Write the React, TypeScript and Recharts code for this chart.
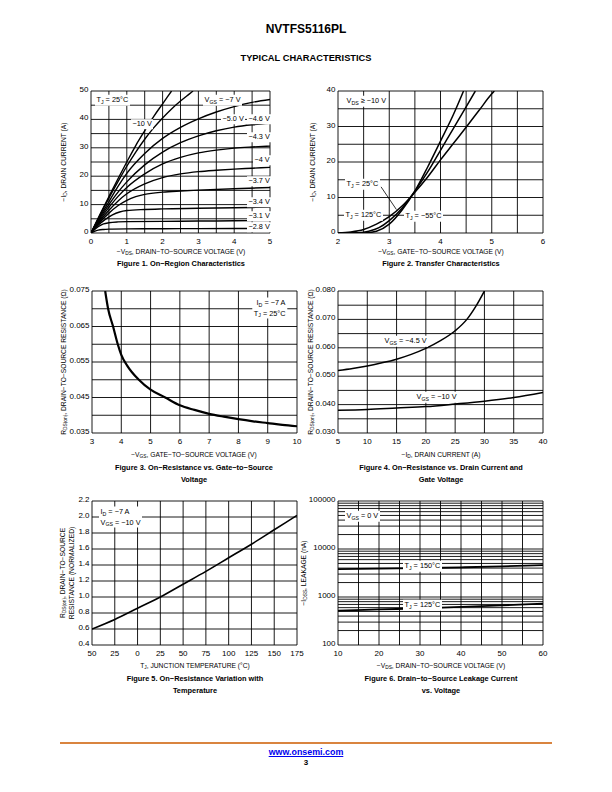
import React from "react";
import { LineChart, Line, XAxis, YAxis, CartesianGrid, ReferenceLine } from "recharts";

const FONT = '"Liberation Sans", Arial, Helvetica, sans-serif';

type Pt = { x: number; y: number };

// ---------- Figure 1: on-region characteristics ----------
const fig1XGrid = [0, 0.5, 1, 1.5, 2, 2.5, 3, 3.5, 4, 4.5, 5];
const fig1XText = ["0", "", "1", "", "2", "", "3", "", "4", "", "5"];
const fig1YGrid = [0, 5, 10, 15, 20, 25, 30, 35, 40, 45, 50];
const fig1YText = ["0", "", "10", "", "20", "", "30", "", "40", "", "50"];

const vgs10: Pt[] = [
  { x: 0, y: 0 }, { x: 0.25, y: 6.5 }, { x: 0.5, y: 12.8 }, { x: 0.75, y: 19 }, { x: 1, y: 25 },
  { x: 1.25, y: 30.8 }, { x: 1.5, y: 36 }, { x: 1.75, y: 41 }, { x: 2, y: 45.5 }, { x: 2.25, y: 50 },
];
const vgs7: Pt[] = [
  { x: 0, y: 0 }, { x: 0.25, y: 6.3 }, { x: 0.5, y: 12.3 }, { x: 0.75, y: 18 }, { x: 1, y: 23.5 },
  { x: 1.25, y: 28.5 }, { x: 1.5, y: 33 }, { x: 1.75, y: 37 }, { x: 2, y: 40.5 }, { x: 2.25, y: 43.7 },
  { x: 2.5, y: 46.5 }, { x: 2.75, y: 49 }, { x: 2.85, y: 50 },
];
const vgs5: Pt[] = [
  { x: 0, y: 0 }, { x: 0.25, y: 5.8 }, { x: 0.5, y: 11 }, { x: 0.75, y: 16.3 }, { x: 1, y: 21 },
  { x: 1.5, y: 28 }, { x: 2, y: 33.3 }, { x: 2.5, y: 37.2 }, { x: 3, y: 40.2 }, { x: 3.5, y: 42.6 },
  { x: 4, y: 44.5 }, { x: 4.5, y: 46 }, { x: 5, y: 47 },
];
const vgs46: Pt[] = [
  { x: 0, y: 0 }, { x: 0.25, y: 5.3 }, { x: 0.5, y: 10 }, { x: 0.75, y: 14.3 }, { x: 1, y: 18 },
  { x: 1.5, y: 24 }, { x: 2, y: 28.5 }, { x: 2.5, y: 31.8 }, { x: 3, y: 34.2 }, { x: 3.5, y: 36 },
  { x: 4, y: 37.3 }, { x: 4.5, y: 38.1 }, { x: 5, y: 38.6 },
];
const vgs43: Pt[] = [
  { x: 0, y: 0 }, { x: 0.25, y: 4.8 }, { x: 0.5, y: 9 }, { x: 0.75, y: 12.8 }, { x: 1, y: 16 },
  { x: 1.5, y: 20.8 }, { x: 2, y: 24.3 }, { x: 2.5, y: 26.6 }, { x: 3, y: 28.2 }, { x: 3.5, y: 29.2 },
  { x: 4, y: 29.9 }, { x: 4.5, y: 30.3 }, { x: 5, y: 30.6 },
];
const vgs4: Pt[] = [
  { x: 0, y: 0 }, { x: 0.25, y: 4.3 }, { x: 0.5, y: 8 }, { x: 0.75, y: 11.2 }, { x: 1, y: 13.8 },
  { x: 1.5, y: 17.3 }, { x: 2, y: 19.5 }, { x: 2.5, y: 20.8 }, { x: 3, y: 21.6 }, { x: 3.5, y: 22.1 },
  { x: 4, y: 22.5 }, { x: 4.5, y: 22.8 }, { x: 5, y: 23.1 },
];
const vgs37: Pt[] = [
  { x: 0, y: 0 }, { x: 0.25, y: 3.8 }, { x: 0.5, y: 7 }, { x: 0.75, y: 9.6 }, { x: 1, y: 11.5 },
  { x: 1.25, y: 12.8 }, { x: 1.5, y: 13.6 }, { x: 2, y: 14.4 }, { x: 2.5, y: 14.8 }, { x: 3, y: 15.1 },
  { x: 4, y: 15.6 }, { x: 5, y: 16 },
];
const vgs34: Pt[] = [
  { x: 0, y: 0 }, { x: 0.2, y: 2.7 }, { x: 0.4, y: 4.8 }, { x: 0.6, y: 6.4 }, { x: 0.8, y: 7.4 },
  { x: 1, y: 7.9 }, { x: 1.5, y: 8.3 }, { x: 2, y: 8.5 }, { x: 3, y: 8.7 }, { x: 4, y: 8.9 }, { x: 5, y: 9.1 },
];
const vgs31: Pt[] = [
  { x: 0, y: 0 }, { x: 0.1, y: 1.2 }, { x: 0.2, y: 2.2 }, { x: 0.35, y: 3.2 }, { x: 0.5, y: 3.6 },
  { x: 0.75, y: 3.9 }, { x: 1, y: 4 }, { x: 2, y: 4.1 }, { x: 3, y: 4.2 }, { x: 4, y: 4.3 }, { x: 5, y: 4.4 },
];
const vgs28: Pt[] = [
  { x: 0, y: 0 }, { x: 0.1, y: 0.6 }, { x: 0.2, y: 1 }, { x: 0.35, y: 1.25 }, { x: 0.5, y: 1.35 },
  { x: 1, y: 1.45 }, { x: 2, y: 1.5 }, { x: 3, y: 1.55 }, { x: 5, y: 1.6 },
];
const fig1Series = [vgs10, vgs7, vgs5, vgs46, vgs43, vgs4, vgs37, vgs34, vgs31, vgs28];

// ---------- Figure 2: transfer characteristics ----------
const fig2XGrid = [2, 2.5, 3, 3.5, 4, 4.5, 5, 5.5, 6];
const fig2XText = ["2", "", "3", "", "4", "", "5", "", "6"];
const fig2YGrid = [0, 5, 10, 15, 20, 25, 30, 35, 40];
const fig2YText = ["0", "", "10", "", "20", "", "30", "", "40"];

const tj125: Pt[] = [
  { x: 2, y: 0 }, { x: 2.25, y: 0.3 }, { x: 2.5, y: 1 }, { x: 2.75, y: 2.5 }, { x: 3, y: 4.6 },
  { x: 3.25, y: 7.6 }, { x: 3.5, y: 11.5 }, { x: 3.75, y: 15.8 }, { x: 4, y: 20.6 }, { x: 4.25, y: 25.2 },
  { x: 4.5, y: 29.8 }, { x: 4.75, y: 34.5 }, { x: 5, y: 39.2 }, { x: 5.05, y: 40 },
];
const tj25: Pt[] = [
  { x: 2, y: 0 }, { x: 2.4, y: 0.1 }, { x: 2.6, y: 0.5 }, { x: 2.8, y: 1.5 }, { x: 3, y: 3.5 },
  { x: 3.25, y: 7 }, { x: 3.5, y: 11.8 }, { x: 3.75, y: 17.2 }, { x: 4, y: 23.3 }, { x: 4.25, y: 29.4 },
  { x: 4.5, y: 35.5 }, { x: 4.68, y: 40 },
];
const tjm55: Pt[] = [
  { x: 2, y: 0 }, { x: 2.5, y: 0 }, { x: 2.75, y: 0.5 }, { x: 3, y: 2.5 }, { x: 3.25, y: 6.5 },
  { x: 3.5, y: 11.8 }, { x: 3.75, y: 18.6 }, { x: 4, y: 25.9 }, { x: 4.25, y: 33.3 }, { x: 4.45, y: 40 },
];

// ---------- Figure 3: RDS(on) vs VGS ----------
const fig3XGrid = [3, 4, 5, 6, 7, 8, 9, 10];
const fig3XText = ["3", "4", "5", "6", "7", "8", "9", "10"];
const fig3YGrid = [0.035, 0.04, 0.045, 0.05, 0.055, 0.06, 0.065, 0.07, 0.075];
const fig3YText = ["0.035", "", "0.045", "", "0.055", "", "0.065", "", "0.075"];
const rdsVsVgs: Pt[] = [
  { x: 3.45, y: 0.075 }, { x: 3.55, y: 0.07 }, { x: 3.72, y: 0.065 }, { x: 3.88, y: 0.06 },
  { x: 4, y: 0.057 }, { x: 4.2, y: 0.054 }, { x: 4.6, y: 0.05 }, { x: 5, y: 0.0472 },
  { x: 5.5, y: 0.045 }, { x: 6, y: 0.0428 }, { x: 6.5, y: 0.0415 }, { x: 7, y: 0.0404 },
  { x: 7.5, y: 0.0396 }, { x: 8, y: 0.0389 }, { x: 8.5, y: 0.0383 }, { x: 9, y: 0.0378 },
  { x: 9.5, y: 0.0373 }, { x: 10, y: 0.0369 },
];

// ---------- Figure 4: RDS(on) vs ID ----------
const fig4XGrid = [5, 10, 15, 20, 25, 30, 35, 40];
const fig4XText = ["5", "10", "15", "20", "25", "30", "35", "40"];
const fig4YGrid = [0.03, 0.035, 0.04, 0.045, 0.05, 0.055, 0.06, 0.065, 0.07, 0.075, 0.08];
const fig4YText = ["0.030", "", "0.040", "", "0.050", "", "0.060", "", "0.070", "", "0.080"];
const rdsVgs45: Pt[] = [
  { x: 5, y: 0.052 }, { x: 7.5, y: 0.0527 }, { x: 10, y: 0.0536 }, { x: 12.5, y: 0.0547 },
  { x: 15, y: 0.056 }, { x: 17.5, y: 0.0577 }, { x: 20, y: 0.0598 }, { x: 22.5, y: 0.0625 },
  { x: 25, y: 0.066 }, { x: 27, y: 0.07 }, { x: 28.5, y: 0.0745 }, { x: 30, y: 0.08 },
];
const rdsVgs10: Pt[] = [
  { x: 5, y: 0.038 }, { x: 10, y: 0.0383 }, { x: 15, y: 0.0388 }, { x: 20, y: 0.0393 },
  { x: 25, y: 0.0402 }, { x: 30, y: 0.0412 }, { x: 35, y: 0.0425 }, { x: 40, y: 0.0443 },
];

// ---------- Figure 5: RDS(on) vs temperature ----------
const fig5XGrid = [-50, -25, 0, 25, 50, 75, 100, 125, 150, 175];
const fig5XText = ["50", "25", "0", "25", "50", "75", "100", "125", "150", "175"];
const fig5YGrid = [0.4, 0.6, 0.8, 1.0, 1.2, 1.4, 1.6, 1.8, 2.0, 2.2];
const fig5YText = ["0.4", "0.6", "0.8", "1.0", "1.2", "1.4", "1.6", "1.8", "2.0", "2.2"];
const rdsVsTemp: Pt[] = [
  { x: -50, y: 0.6 }, { x: -25, y: 0.72 }, { x: 0, y: 0.86 }, { x: 25, y: 1.0 }, { x: 50, y: 1.16 },
  { x: 75, y: 1.32 }, { x: 100, y: 1.49 }, { x: 125, y: 1.66 }, { x: 150, y: 1.84 }, { x: 175, y: 2.02 },
];

// ---------- Figure 6: leakage current ----------
const fig6XGrid = [10, 15, 20, 25, 30, 35, 40, 45, 50, 55, 60];
const fig6XText = ["10", "", "20", "", "30", "", "40", "", "50", "", "60"];
const fig6YGrid = [
  100, 200, 300, 400, 500, 600, 700, 800, 900,
  1000, 2000, 3000, 4000, 5000, 6000, 7000, 8000, 9000,
  10000, 20000, 30000, 40000, 50000, 60000, 70000, 80000, 90000, 100000,
];
const fig6YDecades = [100, 1000, 10000, 100000];
const leak150: Pt[] = [
  { x: 10, y: 3800 }, { x: 20, y: 3900 }, { x: 30, y: 4000 }, { x: 40, y: 4150 }, { x: 50, y: 4350 }, { x: 60, y: 4600 },
];
const leak125: Pt[] = [
  { x: 10, y: 520 }, { x: 20, y: 550 }, { x: 30, y: 580 }, { x: 40, y: 620 }, { x: 50, y: 670 }, { x: 60, y: 730 },
];

const PADL = 40;
const PADT = 8;
const PADR = 8;
const PADB = 16;

const tickFactory = (grid: number[], text: string[], side: "x" | "y") => (p: any) => {
  const v = p.payload?.value;
  const i = grid.findIndex((g) => Math.abs(g - v) < 1e-9);
  const s = i >= 0 ? text[i] : "";
  if (!s) return <g />;
  if (side === "x")
    return (
      <text x={p.x} y={p.y + 10.6} textAnchor="middle" fontSize={8} fontFamily={FONT} fill="#000">
        {s}
      </text>
    );
  return (
    <text x={p.x - 2.5} y={p.y + 1} textAnchor="end" fontSize={8} fontFamily={FONT} fill="#000">
      {s}
    </text>
  );
};

interface PlotProps {
  left: number;
  top: number;
  pw: number;
  ph: number;
  xGrid: number[];
  xText: string[];
  yGrid: number[];
  yText: string[];
  log?: boolean;
  children: React.ReactNode;
}

function Plot({ left, top, pw, ph, xGrid, xText, yGrid, yText, log, children }: PlotProps) {
  return (
    <div style={{ position: "absolute", left: left - PADL, top: top - PADT }}>
      <LineChart width={pw + PADL + PADR} height={ph + PADT + PADB} margin={{ top: PADT, right: PADR, bottom: 0, left: 0 }}>
        <CartesianGrid stroke="#000" strokeWidth={0.9} />
        <XAxis
          type="number"
          dataKey="x"
          domain={[xGrid[0], xGrid[xGrid.length - 1]]}
          ticks={xGrid}
          interval={0}
          height={PADB}
          axisLine={false}
          tickLine={false}
          tickSize={0}
          tickMargin={0}
          allowDataOverflow
          tick={tickFactory(xGrid, xText, "x")}
        />
        <YAxis
          type="number"
          scale={log ? "log" : "linear"}
          domain={[yGrid[0], yGrid[yGrid.length - 1]]}
          ticks={yGrid}
          interval={0}
          width={PADL}
          axisLine={false}
          tickLine={false}
          tickSize={0}
          tickMargin={0}
          allowDataOverflow
          tick={tickFactory(yGrid, yText, "y")}
        />
        {children}
      </LineChart>
    </div>
  );
}

const Sub = ({ children }: { children: React.ReactNode }) => (
  <span style={{ fontSize: "0.72em", position: "relative", top: "0.3em" }}>{children}</span>
);

const Note = ({ x, y, children, align }: { x: number; y: number; children: React.ReactNode; align?: "right" }) => (
  <div
    style={{
      position: "absolute",
      left: x,
      top: y,
      transform: align === "right" ? "translate(-100%, -50%)" : "translateY(-50%)",
      background: "#fff",
      fontSize: 7.3,
      lineHeight: "9.5px",
      padding: "0 1.5px",
      whiteSpace: "nowrap",
      textAlign: align === "right" ? "right" : "left",
    }}
  >
    {children}
  </div>
);

const XTitle = ({ cx, cy, children }: { cx: number; cy: number; children: React.ReactNode }) => (
  <div style={{ position: "absolute", left: cx, top: cy, transform: "translate(-50%, -50%)", fontSize: 6.7, whiteSpace: "nowrap", lineHeight: "8px" }}>
    {children}
  </div>
);

const YTitle = ({ cx, cy, children }: { cx: number; cy: number; children: React.ReactNode }) => (
  <div
    style={{
      position: "absolute",
      left: cx,
      top: cy,
      transform: "translate(-50%, -50%) rotate(-90deg)",
      fontSize: 6.7,
      whiteSpace: "nowrap",
      lineHeight: "8px",
      textAlign: "center",
    }}
  >
    {children}
  </div>
);

const Caption = ({ cx, top, children }: { cx: number; top: number; children: React.ReactNode }) => (
  <div
    style={{
      position: "absolute",
      left: cx,
      top,
      transform: "translateX(-50%)",
      fontSize: 7.4,
      fontWeight: "bold",
      whiteSpace: "nowrap",
      lineHeight: "11.5px",
      textAlign: "center",
    }}
  >
    {children}
  </div>
);

const curve = (data: Pt[], key: string, w = 1.5) => (
  <Line
    key={key}
    data={data}
    dataKey="y"
    type="monotone"
    stroke="#000"
    strokeWidth={w}
    dot={false}
    activeDot={false}
    isAnimationActive={false}
  />
);

export default function App() {
  return (
    <div style={{ position: "absolute", left: 0, top: 0, width: 612, height: 792, background: "#fff", fontFamily: FONT, color: "#000" }}>
      <div style={{ position: "absolute", left: 0, width: 612, top: 22, textAlign: "center", fontSize: 12, fontWeight: "bold", lineHeight: "14px" }}>
        NVTFS5116PL
      </div>
      <div style={{ position: "absolute", left: 0, width: 612, top: 52, textAlign: "center", fontSize: 9.3, fontWeight: "bold", lineHeight: "12px" }}>
        TYPICAL CHARACTERISTICS
      </div>

      {/* Figure 1 */}
      <Plot left={91} top={91} pw={179} ph={142} xGrid={fig1XGrid} xText={fig1XText} yGrid={fig1YGrid} yText={fig1YText}>
        {fig1Series.map((s, i) => curve(s, "f1" + i, 1.4))}
      </Plot>
      <Note x={95} y={100}>T<Sub>J</Sub> = 25°C</Note>
      <Note x={131} y={124}>−10 V</Note>
      <Note x={203} y={100}>V<Sub>GS</Sub> = −7 V</Note>
      <Note x={221} y={119}>−5.0 V</Note>
      <Note x={247} y={119}>−4.6 V</Note>
      <Note x={247} y={137}>−4.3 V</Note>
      <Note x={253} y={160}>−4 V</Note>
      <Note x={247} y={181}>−3.7 V</Note>
      <Note x={247} y={202}>−3.4 V</Note>
      <Note x={247} y={216}>−3.1 V</Note>
      <Note x={247} y={227}>−2.8 V</Note>
      <YTitle cx={64} cy={162}>−I<Sub>D</Sub>, DRAIN CURRENT (A)</YTitle>
      <XTitle cx={181} cy={252}>−V<Sub>DS</Sub>, DRAIN−TO−SOURCE VOLTAGE (V)</XTitle>
      <Caption cx={181} top={258}>Figure 1. On−Region Characteristics</Caption>

      {/* Figure 2 */}
      <Plot left={338} top={91} pw={205} ph={142} xGrid={fig2XGrid} xText={fig2XText} yGrid={fig2YGrid} yText={fig2YText}>
        {curve(tj125, "t125")}
        {curve(tj25, "t25")}
        {curve(tjm55, "tm55")}
        <ReferenceLine segment={[{ x: 2.84, y: 13 }, { x: 3.14, y: 6.6 }]} stroke="#000" strokeWidth={0.8} />
      </Plot>
      <Note x={345} y={101}>V<Sub>DS</Sub> ≥ −10 V</Note>
      <Note x={345} y={184}>T<Sub>J</Sub> = 25°C</Note>
      <Note x={344} y={215}>T<Sub>J</Sub> = 125°C</Note>
      <Note x={404} y={216}>T<Sub>J</Sub> = −55°C</Note>
      <YTitle cx={313} cy={162}>−I<Sub>D</Sub>, DRAIN CURRENT (A)</YTitle>
      <XTitle cx={441} cy={252}>−V<Sub>GS</Sub>, GATE−TO−SOURCE VOLTAGE (V)</XTitle>
      <Caption cx={441} top={258}>Figure 2. Transfer Characteristics</Caption>

      {/* Figure 3 */}
      <Plot left={92} top={291} pw={205} ph={142} xGrid={fig3XGrid} xText={fig3XText} yGrid={fig3YGrid} yText={fig3YText}>
        {curve(rdsVsVgs, "r3", 2.2)}
      </Plot>
      <Note x={287} y={308} align="right">
        I<Sub>D</Sub> = −7 A
        <br />
        T<Sub>J</Sub> = 25°C
      </Note>
      <YTitle cx={64} cy={362}>R<Sub>DS(on)</Sub>, DRAIN−TO−SOURCE RESISTANCE (Ω)</YTitle>
      <XTitle cx={194} cy={455}>−V<Sub>GS</Sub>, GATE−TO−SOURCE VOLTAGE (V)</XTitle>
      <Caption cx={194} top={462}>
        Figure 3. On−Resistance vs. Gate−to−Source
        <br />
        Voltage
      </Caption>

      {/* Figure 4 */}
      <Plot left={338} top={291} pw={205} ph={142} xGrid={fig4XGrid} xText={fig4XText} yGrid={fig4YGrid} yText={fig4YText}>
        {curve(rdsVgs45, "r45")}
        {curve(rdsVgs10, "r10")}
      </Plot>
      <Note x={383} y={341}>V<Sub>GS</Sub> = −4.5 V</Note>
      <Note x={415} y={397}>V<Sub>GS</Sub> = −10 V</Note>
      <YTitle cx={311} cy={362}>R<Sub>DS(on)</Sub>, DRAIN−TO−SOURCE RESISTANCE (Ω)</YTitle>
      <XTitle cx={441} cy={455}>−I<Sub>D</Sub>, DRAIN CURRENT (A)</XTitle>
      <Caption cx={441} top={462}>
        Figure 4. On−Resistance vs. Drain Current and
        <br />
        Gate Voltage
      </Caption>

      {/* Figure 5 */}
      <Plot left={92} top={501} pw={205} ph={144} xGrid={fig5XGrid} xText={fig5XText} yGrid={fig5YGrid} yText={fig5YText}>
        {curve(rdsVsTemp, "r5", 1.6)}
      </Plot>
      <Note x={99} y={517}>
        I<Sub>D</Sub> = −7 A
        <br />
        V<Sub>GS</Sub> = −10 V
      </Note>
      <YTitle cx={67} cy={573}>
        R<Sub>DS(on)</Sub>, DRAIN−TO−SOURCE
        <br />
        RESISTANCE (NORMALIZED)
      </YTitle>
      <XTitle cx={195} cy={666}>T<Sub>J</Sub>, JUNCTION TEMPERATURE (°C)</XTitle>
      <Caption cx={195} top={673}>
        Figure 5. On−Resistance Variation with
        <br />
        Temperature
      </Caption>

      {/* Figure 6 */}
      <Plot
        left={338}
        top={501}
        pw={205}
        ph={144}
        xGrid={fig6XGrid}
        xText={fig6XText}
        yGrid={fig6YGrid}
        yText={fig6YGrid.map((v) => (fig6YDecades.includes(v) ? String(v) : ""))}
        log
      >
        {curve(leak150, "l150", 1.8)}
        {curve(leak125, "l125", 1.8)}
      </Plot>
      <Note x={345} y={516}>V<Sub>GS</Sub> = 0 V</Note>
      <Note x={403} y={566}>T<Sub>J</Sub> = 150°C</Note>
      <Note x={403} y={605}>T<Sub>J</Sub> = 125°C</Note>
      <YTitle cx={304} cy={573}>−I<Sub>DSS</Sub>, LEAKAGE (nA)</YTitle>
      <XTitle cx={441} cy={666}>−V<Sub>DS</Sub>, DRAIN−TO−SOURCE VOLTAGE (V)</XTitle>
      <Caption cx={441} top={673}>
        Figure 6. Drain−to−Source Leakage Current
        <br />
        vs. Voltage
      </Caption>

      {/* footer */}
      <div style={{ position: "absolute", left: 60, top: 742, width: 492, height: 2, background: "#d9843f" }} />
      <div style={{ position: "absolute", left: 0, width: 612, top: 747, textAlign: "center", fontSize: 8.9, fontWeight: "bold", lineHeight: "11px" }}>
        <span style={{ color: "#0000ee", textDecoration: "underline" }}>www.onsemi.com</span>
      </div>
      <div style={{ position: "absolute", left: 0, width: 612, top: 758, textAlign: "center", fontSize: 8, fontWeight: "bold", lineHeight: "10px" }}>
        3
      </div>
    </div>
  );
}
